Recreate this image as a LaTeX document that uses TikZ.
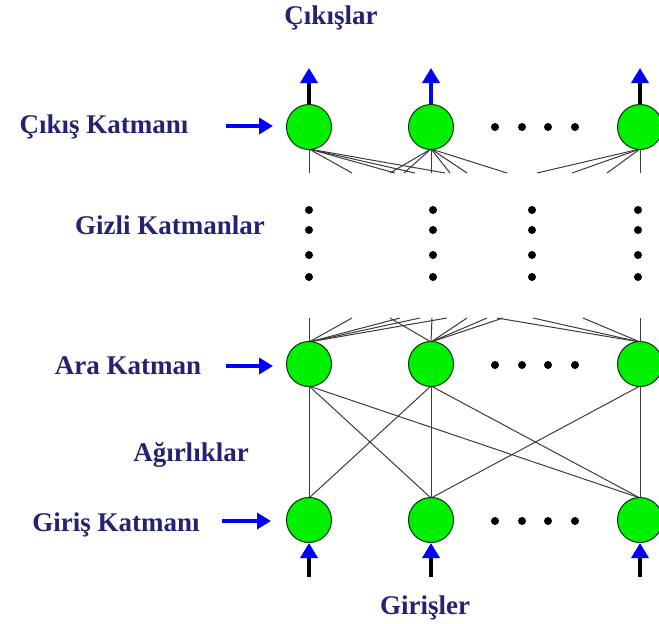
\documentclass[tikz,border=0pt]{standalone}
\usepackage{fontspec}
\setmainfont{Liberation Serif}
\usetikzlibrary{arrows.meta,calc}
\definecolor{navy}{RGB}{35,35,115}
\definecolor{neuron}{RGB}{0,240,0}
\definecolor{wire}{RGB}{60,60,60}
\tikzset{
  neuronnode/.style={circle,draw=black!80!green,line width=1pt,fill=neuron,minimum size=45pt,inner sep=0pt},
  lab/.style={text=navy,font=\fontsize{27}{30}\selectfont\bfseries,inner sep=0pt,text height=18pt,text depth=0pt},
  wt/.style={draw=wire,line width=1pt},
  shaft/.style={line width=3.5pt,-{Triangle[length=15pt,width=17pt,color=blue]}},
  pointer/.style={line width=4pt,draw=blue,-{Triangle[length=14pt,width=16pt]}},
  bigdot/.style={circle,fill=black,inner sep=0pt,minimum size=8pt},
}
\begin{document}
\begin{tikzpicture}[x=1pt,y=-1pt]
\useasboundingbox (0,0) rectangle (659,624);
% weights between hidden (Ara) layer and input layer (drawn first)
\foreach \n/\x in {1/309,2/431,3/640}{
  \coordinate (hb\n) at (\x,386);
  \coordinate (it\n) at (\x,498);
}
\draw[wt] (hb1) -- (it1);
\draw[wt] (hb1) -- (it2);
\draw[wt] (hb1) -- (it3);
\draw[wt] (hb2) -- (it1);
\draw[wt] (hb2) -- (it2);
\draw[wt] (hb2) -- (it3);
\draw[wt] (hb3) -- (it2);
\draw[wt] (hb3) -- (it3);
% partial fans below output layer
\foreach \n/\x in {1/309,2/431,3/640}{
  \coordinate (ob\n) at (\x,149);
  \coordinate (ht\n) at (\x,342);
}
\foreach \e in {309,352,395,415,445}{ \coordinate (fe) at (\e,173); \draw[wt] (ob1) -- (fe); }
\foreach \e in {390,404,431,450,467,507}{ \coordinate (fe) at (\e,173); \draw[wt] (ob2) -- (fe); }
\foreach \e in {537,572,607,640}{ \coordinate (fe) at (\e,173); \draw[wt] (ob3) -- (fe); }
% partial fans above Ara layer
\foreach \e in {309,352,400,420,447}{ \coordinate (fe) at (\e,318); \draw[wt] (ht1) -- (fe); }
\foreach \e in {390,432,467,487,503}{ \coordinate (fe) at (\e,318); \draw[wt] (ht2) -- (fe); }
\foreach \e in {497,533,583,640}{ \coordinate (fe) at (\e,318); \draw[wt] (ht3) -- (fe); }
% neurons
\foreach \n/\x in {1/309,2/431,3/640}{
  \node[neuronnode] (o\n) at (\x,127) {};
  \node[neuronnode] (h\n) at (\x,364) {};
  \node[neuronnode] (i\n) at (\x,520) {};
}
% horizontal dots
\foreach \x [count=\k] in {495,522,548,575}{
  \node[bigdot] (od\k) at (\x,127) {};
  \node[bigdot] (hd\k) at (\x,365) {};
  \node[bigdot] (id\k) at (\x,521) {};
}
% vertical dots
\foreach \x [count=\c] in {309,433,532,638}{
  \foreach \y [count=\r] in {210,230,255,277}{
    \node[bigdot] (v\c\r) at (\x,\y) {};
  }
}
% output arrows
\foreach \n in {1,2,3}{
  \coordinate (ot\n) at ($(o\n.north)+(0,-36)$);
}
\draw[shaft] (o1.north) -- (ot1);
\draw[shaft,draw=blue] (o2.north) -- (ot2);
\draw[shaft] (o3.north) -- (ot3);
% input arrows
\foreach \n in {1,2,3}{
  \coordinate (ib\n) at ($(i\n.south)+(0,34)$);
  \draw[shaft] (ib\n) -- (i\n.south);
}
% labels
\node[lab] (top) at (331,15) {Çıkışlar};
\node[lab] (bot) at (425,605) {Girişler};
\node[lab] (lo) at (104,124) {Çıkış Katmanı};
\node[lab] (lg) at (170,225) {Gizli Katmanlar};
\node[lab] (la) at (128,365) {Ara Katman};
\node[lab] (lw) at (191,452) {Ağırlıklar};
\node[lab] (li) at (116,522) {Giriş Katmanı};
% pointer arrows
\coordinate (pos) at (226,126); \coordinate (poe) at (273,126);
\coordinate (pas) at (226,366); \coordinate (pae) at (273,366);
\coordinate (pis) at (222,521); \coordinate (pie) at (271,521);
\draw[pointer] (pos) -- (poe);
\draw[pointer] (pas) -- (pae);
\draw[pointer] (pis) -- (pie);
\end{tikzpicture}
\end{document}
